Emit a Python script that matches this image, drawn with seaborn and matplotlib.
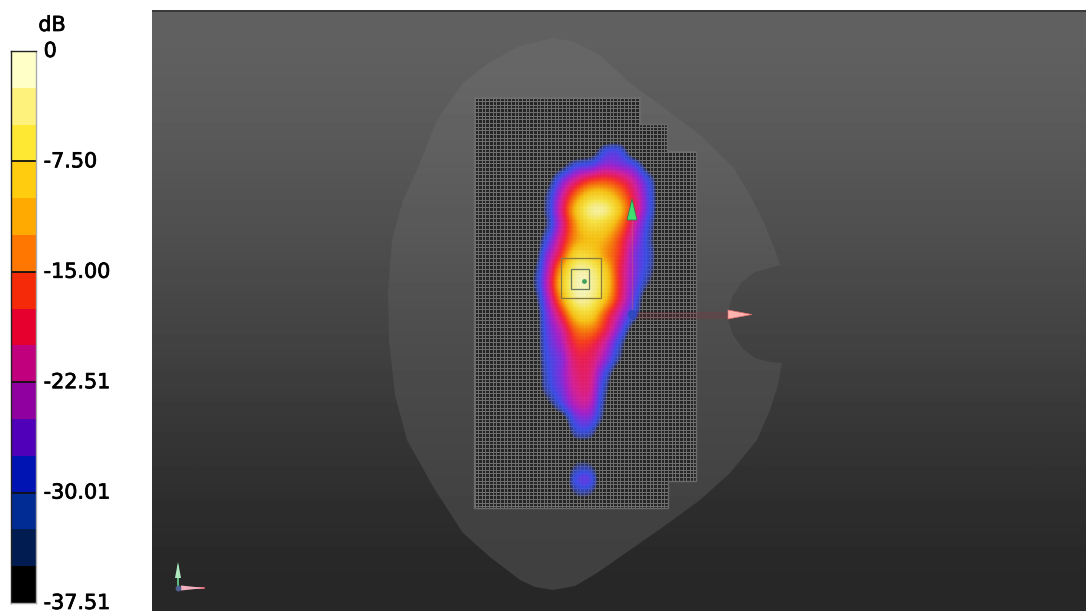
import numpy as np
import matplotlib
matplotlib.use("Agg")
import matplotlib.pyplot as plt
import matplotlib.patheffects as pe
from matplotlib.colors import ListedColormap, LinearSegmentedColormap, to_rgba
from matplotlib.patches import Polygon, Rectangle
import seaborn as sns

# ---- colour scale
SCALE_COLORS = ["#ffffc8", "#fff27c", "#ffe834", "#ffcc10", "#ffaa00", "#ff7700", "#f52a08",
                "#e6002e", "#c0007c", "#9000a0", "#5000b8", "#0014b4", "#002c94", "#001c50", "#000000"]
SCALE_TICKS = [0, 3, 6, 9, 12, 15]
SCALE_LABELS = ["0", "-7.50", "-15.00", "-22.51", "-30.01", "-37.51"]

FIELD_X = [530, 545, 560, 575, 590, 605, 620, 635, 650, 665]
FIELD_Y = list(range(135, 511, 15))
N = -41
FIELD_DB = [
    [N, N, N, N, N, N, N, N, N, N],
    [N, N, N, N, -38, -29, -29, -40, N, N],
    [N, N, -36, -29, -27, -23, -24, -28, -38, N],
    [N, -37, -26, -19, -15, -14, -16, -21, -30, N],
    [N, -33, -21, -12, -7, -7, -11, -18, -28, N],
    [N, -32, -19, -8, -2, -2, -8, -17, -28, N],
    [N, -33, -20, -10, -5, -6, -11, -20, -30, N],
    [N, -29, -18, -10, -8, -9, -14, -22, -31, N],
    [-40, -25, -15, -6, -6, -10, -15, -24, -30, N],
    [-36, -23, -10, -2, -2, -7, -16, -24, -31, N],
    [-35, -22, -8, -1, -1, -6, -16, -25, -34, N],
    [-38, -24, -11, -2, -2, -8, -17, -27, -40, N],
    [N, -26, -16, -7, -6, -13, -21, -30, N, N],
    [N, -27, -20, -12, -11, -16, -25, -37, N, N],
    [N, -28, -22, -15, -15, -20, -30, N, N, N],
    [N, -29, -24, -17, -17, -23, -33, N, N, N],
    [N, -30, -24, -18, -18, -28, -39, N, N, N],
    [N, -31, -25, -19, -19, -31, N, N, N, N],
    [N, -36, -28, -21, -21, -33, N, N, N, N],
    [N, N, -37, -26, -25, -35, N, N, N, N],
    [N, N, N, -31, -31, N, N, N, N, N],
    [N, N, N, -39, -39, N, N, N, N, N],
    [N, N, N, -33, -33, N, N, N, N, N],
    [N, N, N, -28, -27, N, N, N, N, N],
    [N, N, N, -33, -33, N, N, N, N, N],
    [N, N, N, N, N, N, N, N, N, N],
]
FIELD_STOPS = [-37.5, -34, -31, -28, -25, -22, -19, -16, -14, -11, -8, -4, 0]
FIELD_COLORS = ["#3246dc", "#3246dc", "#3a52e6", "#3c50ee", "#6e38e8", "#aa20d0", "#dc209a",
                "#f51e50", "#ff3c1e", "#ff820a", "#ffc814", "#ffeb46", "#ffffc8"]
FIELD_ALPHA = [0, 0, .6, .95, .95, .95, .95, .95, .95, .95, .95, .95, .95]

# ---- scene geometry
PANEL = (152, 1086, 611, 11)
BACK_GREY = [[0.375], [0.355], [0.325], [0.29], [0.255], [0.215], [0.18], [0.155]]
HEAD_GREY = [[0.40], [0.375], [0.345], [0.31], [0.285], [0.265], [0.25]]
HEAD_X = [553, 575, 600, 630, 660, 700, 733, 750, 765, 775, 780, 770, 755, 742, 732, 727, 732, 742, 755, 770, 782,
          778, 770, 757, 730, 700, 663, 630, 597, 575, 553, 535, 520, 490, 463, 435, 407, 395, 389, 388, 392, 403,
          417, 437, 463, 490, 520]
HEAD_Y = [38, 42, 55, 83, 105, 135, 167, 195, 225, 250, 265, 268, 272, 282, 297, 315, 333, 348, 358, 362, 363,
          385, 410, 440, 473, 500, 527, 550, 573, 586, 590, 587, 580, 557, 533, 490, 440, 395, 340, 290, 240, 200,
          170, 120, 83, 62, 46]
MESH_X = [474, 640, 640, 667, 667, 696, 696, 668, 668, 474]
MESH_Y = [97, 97, 124, 124, 151, 151, 481, 481, 508, 508]
MESH_STEP = 3.65

sns.set_theme(style="white")
plt.rcParams["font.family"] = ["DejaVu Sans"]

fig = plt.figure(figsize=(10.86, 6.11), dpi=100, facecolor="white")
W, H = 1086, 611
ax = fig.add_axes([0, 0, 1, 1])
ax.set_axis_off()

ax.imshow(BACK_GREY, cmap="gray", vmin=0, vmax=1, aspect="auto", interpolation="bilinear",
          extent=PANEL, zorder=1)
ax.add_patch(Rectangle((152, 10), 934, 2, color="#3a3a3a", lw=0, zorder=1.5))
head = Polygon(np.column_stack([HEAD_X, HEAD_Y]), closed=True, fc="none", lw=0, zorder=2)
ax.add_patch(head)
head_im = ax.imshow(HEAD_GREY, cmap="gray", vmin=0, vmax=1, aspect="auto", interpolation="bilinear",
                    extent=(380, 790, 600, 30), zorder=2)
head_im.set_clip_path(head)

mesh_poly = Polygon(np.column_stack([MESH_X, MESH_Y]), closed=True, fc="#262626", ec="#6a6a6a", lw=1.0, zorder=3)
ax.add_patch(mesh_poly)
xs = np.arange(474.5, 697, MESH_STEP)
ys = np.arange(97.5, 509, MESH_STEP)
vl = ax.vlines(xs, 97, 508, color="#6c6c6c", lw=0.72, zorder=3.2)
hl = ax.hlines(ys, 474, 696, color="#707070", lw=0.72, zorder=3.2)
vl.set_clip_path(mesh_poly)
hl.set_clip_path(mesh_poly)

pos = [(s + 37.5) / 37.5 for s in FIELD_STOPS]
cols = [to_rgba(c, a) for c, a in zip(FIELD_COLORS, FIELD_ALPHA)]
fcmap = LinearSegmentedColormap.from_list("field", list(zip(pos, cols)), N=512)
fcmap.set_under((0, 0, 0, 0))
ax.imshow(np.array(FIELD_DB, float), cmap=fcmap, vmin=-37.5, vmax=0, aspect="auto",
          interpolation="catrom", interpolation_stage="data", zorder=4,
          extent=(FIELD_X[0] - 7.5, FIELD_X[-1] + 7.5, FIELD_Y[-1] + 7.5, FIELD_Y[0] - 7.5))

# overlay markers
ax.plot([636, 728], [315, 315], color="#8a3040", lw=5, alpha=0.25, zorder=5, solid_capstyle="butt")
ax.plot([632, 632], [220, 314], color="#c8607a", lw=1, alpha=0.45, zorder=5)
ax.add_patch(Polygon([(728, 310), (752, 314.5), (728, 319)], fc="#ffb4b0", ec="#e06a6a", lw=0.5, zorder=6))
ax.add_patch(Polygon([(632, 199), (627, 220), (637, 220)], fc="#40e070", ec="#1f7a4a", lw=0.5, zorder=6))
ax.scatter([632], [314], s=30, color="#3048c0", zorder=5)
ax.add_patch(Rectangle((561, 258), 40, 40, fc="none", ec="#8a7a40", lw=0.9, zorder=6))
ax.add_patch(Rectangle((571, 269), 18, 20, fc="none", ec="#6a7a60", lw=0.9, zorder=6))
ax.scatter([584], [281], s=6, color="#40a060", zorder=6)

# small triad
ax.plot([178, 178], [587, 566], color="#60c080", lw=1.4, zorder=6)
ax.plot([178, 204], [588, 588], color="#e06070", lw=1.4, zorder=6)
ax.add_patch(Polygon([(178, 562), (175, 578), (181, 578)], fc="#b0e8c0", lw=0, zorder=6))
ax.add_patch(Polygon([(205, 588), (181, 585.5), (181, 590.5)], fc="#f0b0c0", lw=0, zorder=6))
ax.scatter([178], [588], s=10, color="#506090", zorder=6)

ax.set_xlim(0, W)
ax.set_ylim(H, 0)

# colour scale drawn by seaborn
cax = fig.add_axes([11 / W, 1 - 603 / H, 25 / W, 552 / H])
levels = np.arange(len(SCALE_COLORS)).reshape(-1, 1)
sns.heatmap(levels, ax=cax, cmap=ListedColormap(SCALE_COLORS), cbar=False, xticklabels=False, yticklabels=False)
cax.set_ylim(15, 0)
cax.yaxis.tick_right()
cax.set_yticks(SCALE_TICKS)
cax.set_yticklabels(SCALE_LABELS, fontsize=14.9, color="#000000", rotation=0, va="center")
cax.tick_params(axis="y", length=0, pad=5.5, right=False)
cax.hlines(SCALE_TICKS[1:-1], 0, 1, color="#111111", lw=1.3)
stroke = [pe.withStroke(linewidth=0.5, foreground="black")]
for lab in cax.get_yticklabels():
    lab.set_path_effects(stroke)
for sp, c in (("left", "#222222"), ("top", "#222222"), ("right", "#aaaaaa"), ("bottom", "#aaaaaa")):
    cax.spines[sp].set_visible(True)
    cax.spines[sp].set_color(c)
    cax.spines[sp].set_linewidth(1.0)
fig.text(52 / W, 1 - 25 / H, "dB", fontsize=14.9, color="#000000", ha="center", va="center", path_effects=stroke)

fig.savefig("out.png", dpi=100, facecolor="white")
